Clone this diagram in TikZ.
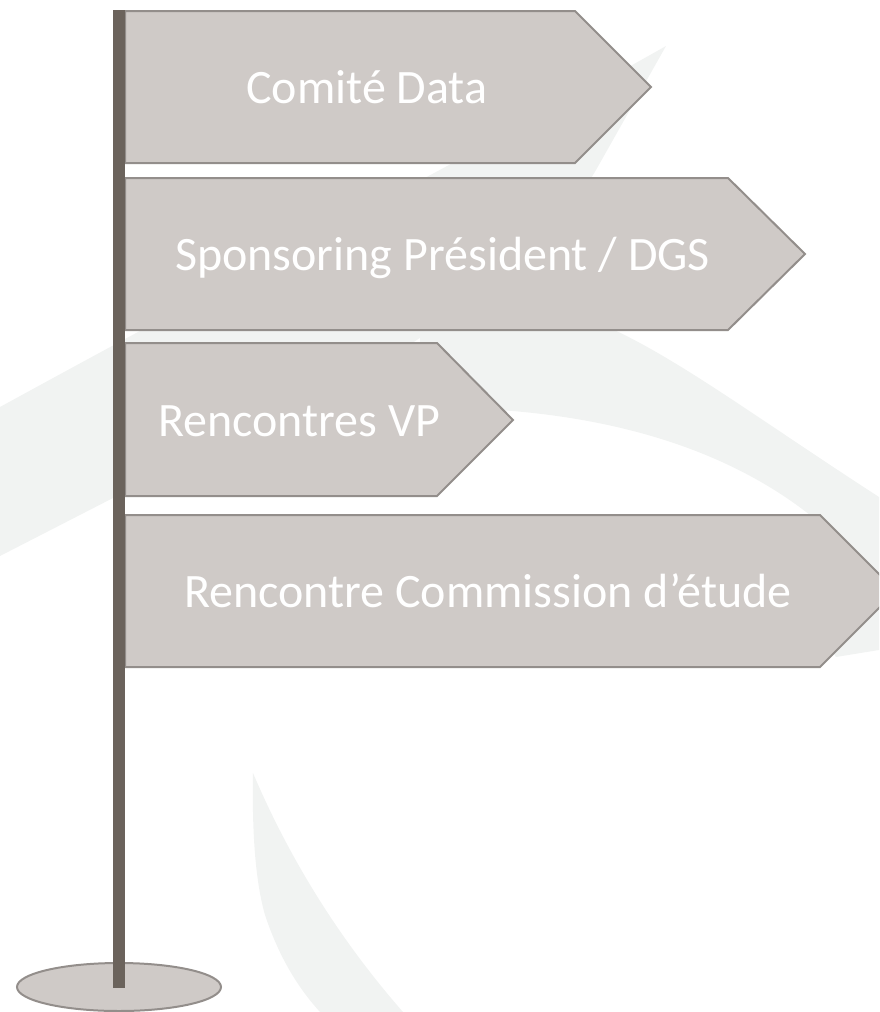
\documentclass[tikz,border=0pt]{standalone}
\usepackage{fontspec}
\setmainfont{Carlito}
\definecolor{signfill}{HTML}{CFCAC7}
\definecolor{signline}{HTML}{938E8B}
\definecolor{polecol}{HTML}{6B635C}
\definecolor{swoosh}{HTML}{F1F3F2}
\begin{document}
\begin{tikzpicture}[x=1pt,y=-1pt,
  signbox/.style={fill=signfill,draw=signline,line width=2pt,line join=miter},
  signtext/.style={text=white,font=\fontsize{48}{58}\selectfont,anchor=base west,inner sep=0pt},
  blade/.style={fill=swoosh,draw=none}]
\useasboundingbox (0,0) rectangle (879,1012);
\clip (0,0) rectangle (879,1012);
% faint background swooshes
\path[blade] (0,407) .. controls (250,270) and (500,140) .. (666,46) -- (596,170)
  .. controls (520,300) and (300,420) .. (113,498) -- (0,556) -- cycle;
\path[blade] (420,206) -- (610,328) .. controls (680,360) and (760,420) .. (879,497)
  -- (879,650) -- (836,657) -- (800,600) -- (810,515)
  .. controls (740,460) and (640,420) .. (500,410) -- (420,390) -- cycle;
\path[blade] (253,773) .. controls (252,830) and (255,880) .. (265,915)
  .. controls (280,960) and (300,990) .. (320,1012) -- (403,1012)
  .. controls (340,940) and (290,860) .. (253,773) -- cycle;
% base
\draw[signbox] (119,987) ellipse [x radius=102pt, y radius=24pt];
% signs
\draw[signbox] (125,11) -- (575,11) -- (651,87) -- (575,163) -- (125,163) -- cycle;
\draw[signbox] (125,178) -- (728,178) -- (805,254) -- (728,330) -- (125,330) -- cycle;
\draw[signbox] (125,343) -- (437,343) -- (513,420) -- (437,496) -- (125,496) -- cycle;
\draw[signbox] (125,515) -- (820,515) -- (896,591) -- (820,667) -- (125,667) -- cycle;
% pole
\fill[polecol] (113,10) rectangle (125,988);
% texts
\node[signtext] (t1) at (246,103) {Comité Data};
\node[signtext] (t2) at (175,270) {Sponsoring Président / DGS};
\node[signtext] (t3) at (158,436) {Rencontres VP};
\node[signtext] (t4) at (184,607) {Rencontre Commission d’étude};
\end{tikzpicture}
\end{document}
